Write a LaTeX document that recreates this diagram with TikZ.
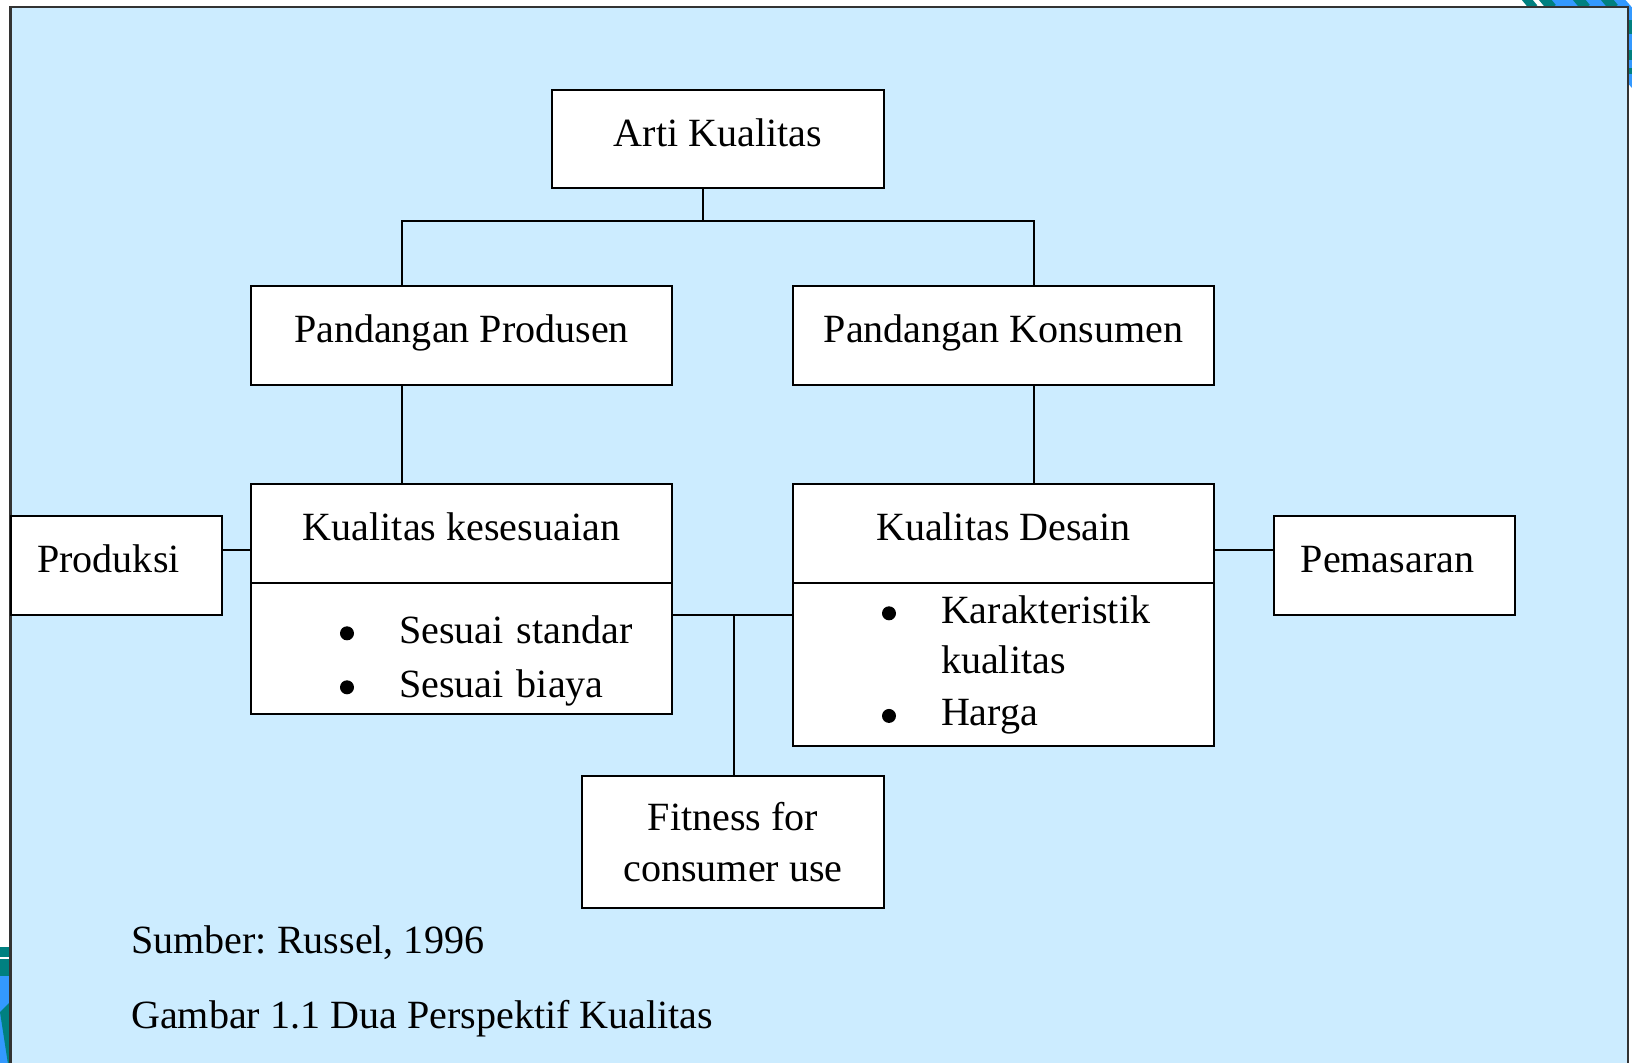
\documentclass[tikz,border=0pt]{standalone}
\usepackage{fontspec}
\setmainfont{Liberation Serif}
\usetikzlibrary{positioning}

\newcommand{\boxfont}{\fontsize{28.5}{36}\selectfont\frenchspacing}
% round list marker, centred a little above the baseline
\newcommand{\listdot}{\tikz[baseline=-0.25cm]\fill (0,0) circle (0.175cm);}

\definecolor{panel blue}{RGB}{204,236,255}
\definecolor{stripe teal}{RGB}{0,128,128}
\definecolor{stripe blue}{RGB}{51,153,255}

\begin{document}
\begin{tikzpicture}
    % --- Style Definitions ---
    \tikzset{
        % Background panel
        panel style/.style={fill=panel blue, draw=black!80, line width=2pt},
        % Boxes with a single label
        box style/.style={
            draw=black,
            line width=1.5pt,
            fill=white,
            inner sep=0pt,
            outer sep=0pt,
            text height=0.7cm,
            text depth=0.35cm,
            align=center,
            font=\boxfont
        },
        % Lower half of a split box (bullet list)
        list style/.style={
            draw=black,
            line width=1.5pt,
            fill=white,
            inner ysep=0pt,
            inner xsep=2.225cm,
            outer sep=0pt,
            align=left,
            font=\boxfont
        },
        % Connecting lines
        link style/.style={draw=black, line width=1.4pt},
        % Source and caption lines
        caption text/.style={font=\boxfont, anchor=west, inner sep=0pt}
    }

    \useasboundingbox (0,0) rectangle (40.8,-26.575);

    % ==========================================
    % Slide decoration and panel
    % ==========================================
    \fill[stripe blue] (38.6,0.1) -- (40.55,0.1) -- (40.9,-0.3) -- (40.9,-2.3) -- cycle;
    \draw[stripe teal, line width=6pt] (38.1,0.1) -- (38.35,-0.2);
    \draw[stripe teal, line width=7pt] (38.55,0.1) -- (38.8,-0.2);
    \draw[stripe teal, line width=7pt] (39.4,0.1) -- (39.65,-0.2);
    \draw[stripe teal, line width=7pt] (40.1,0.1) -- (40.35,-0.2);
    \fill[stripe teal] (40.7,-0.5) rectangle (40.9,-0.85);
    \fill[stripe teal] (40.7,-1.25) rectangle (40.9,-1.5);
    \fill[stripe teal] (40.7,-1.7) rectangle (40.9,-1.85);
    \fill[stripe teal] (0,-23.675) rectangle (0.3,-24.4);
    \draw[white, line width=1.5pt] (0,-23.95) -- (0.3,-23.95);
    \fill[stripe blue] (0,-24.4) rectangle (0.3,-26.6);
    \fill[stripe teal] (0,-25.3) -- (0.3,-25.0) -- (0.3,-26.6) -- (0.2,-26.6) -- cycle;

    \draw[panel style] (0.26,-0.175) rectangle (40.7,-27.5);

    % ==========================================
    % Connectors
    % ==========================================
    \coordinate (branch) at (17.575,-5.525);
    \coordinate (branch_left) at (10.05,-5.525);
    \coordinate (branch_right) at (25.85,-5.525);
    \coordinate (side_link) at (0,-13.75);
    \coordinate (fit_link) at (18.35,-15.375);

    % ==========================================
    % Boxes
    % ==========================================
    % 1. Top
    \node[box style, minimum width=8.3cm, minimum height=2.45cm] (arti) at (17.95,-3.475) {Arti Kualitas};

    % 2. Two views
    \node[box style, minimum width=10.525cm, minimum height=2.475cm] (produsen) at (11.5375,-8.3875) {Pandangan Produsen};
    \node[box style, minimum width=10.525cm, minimum height=2.475cm] (konsumen) at (25.0875,-8.3875) {Pandangan Konsumen};

    % 3. Split boxes
    \node[box style, minimum width=10.525cm, minimum height=2.475cm] (kesesuaian) at (11.5375,-13.3375) {Kualitas kesesuaian};
    \node[list style, text width=6.075cm, minimum height=3.275cm, below=0pt of kesesuaian] (kesesuaian_list) {%
        \begin{tabular}{@{}l@{\hskip 1.125cm}l@{}}
            \rule{0pt}{1.47cm}\listdot & Sesuai standar \\[2.4pt]
            \listdot & Sesuai biaya
        \end{tabular}};

    \node[box style, minimum width=10.525cm, minimum height=2.475cm] (desain) at (25.0875,-13.3375) {Kualitas Desain};
    \node[list style, text width=6.075cm, minimum height=4.075cm, below=0pt of desain] (desain_list) {%
        \begin{tabular}{@{}l@{\hskip 1.125cm}l@{}}
            \listdot & Karakteristik \\
                     & kualitas \\[1pt]
            \listdot & Harga
        \end{tabular}};

    % 4. Side boxes
    \node[box style, minimum width=5.275cm, minimum height=2.475cm] (produksi) at (2.9125,-14.1375) {Produksi\hspace{0.4cm}};
    \node[box style, minimum width=6.025cm, minimum height=2.475cm] (pemasaran) at (34.8625,-14.1375) {Pemasaran\hspace{0.35cm}};

    % 5. Bottom
    \node[box style, text height={}, text depth={}, minimum width=7.55cm, minimum height=3.3cm] (fitness) at (18.325,-21.05) {Fitness for\\consumer use};

    % 6. Lines between boxes
    \draw[link style] (arti.south -| branch) -- (branch);
    \draw[link style] (branch_left |- produsen.north) -- (branch_left) -- (branch_right) -- (branch_right |- konsumen.north);
    \draw[link style] (branch_left |- produsen.south) -- (branch_left |- kesesuaian.north);
    \draw[link style] (branch_right |- konsumen.south) -- (branch_right |- desain.north);
    \draw[link style] (produksi.east |- side_link) -- (kesesuaian.west |- side_link);
    \draw[link style] (desain.east |- side_link) -- (pemasaran.west |- side_link);
    \draw[link style] (kesesuaian_list.east |- fit_link) -- (desain_list.west |- fit_link);
    \draw[link style] (fit_link) -- (fitness.north -| fit_link);

    % ==========================================
    % Source and caption
    % ==========================================
    \node[caption text] (sumber) at (3.275,-23.575) {Sumber: Russel, 1996};
    \node[caption text] (gambar) at (3.275,-25.475) {Gambar 1.1 Dua Perspektif Kualitas};

\end{tikzpicture}
\end{document}
